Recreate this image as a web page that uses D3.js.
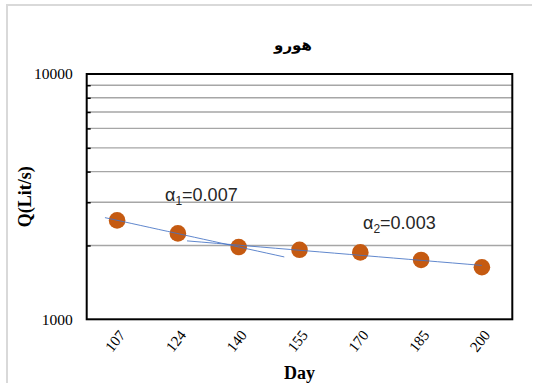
<!DOCTYPE html>
<html>
<head>
<meta charset="utf-8">
<script src="https://cdn.jsdelivr.net/npm/d3@7/dist/d3.min.js"></script>
<style>
  html, body { margin: 0; padding: 0; background: #fff; }
  svg { display: block; }
</style>
</head>
<body>
<svg id="chart" width="541" height="383"></svg>
<script>
// Recession flow at the station: discharge (L/s) against day number
const days = ["107", "124", "140", "155", "170", "185", "200"];
const discharge = [2530, 2240, 1970, 1920, 1875, 1745, 1630];

// Log axis: labelled ticks and the unlabelled minor gridlines
const yLabelTicks = [1000, 10000];
const yGridTicks = [2000, 3000, 4000, 5000, 6000, 7000, 8000, 9000];

// Exponential trendlines: fitted point ranges (by index), forecast periods, recession constants
const trendFitFrom = [0, 2];
const trendFitTo = [2, 6];
const trendBackward = [0.2, 0.85];
const trendForward = [0.75, 0];
const trendAlpha = ["0.007", "0.003"];

const chartTitle = "هورو";
const xTitle = "Day";
const yTitle = "Q(Lit/s)";

const svg = d3.select("#chart");
const W = 541, H = 383;
const plot = { left: 86.7, right: 512.3, top: 74, bottom: 319.3 };

// Outer chart frame (only the top and left edges fall inside the view)
svg.append("path")
  .attr("d", `M7,${H} V5 H532`)
  .attr("fill", "none")
  .attr("stroke", "#d9d9d9")
  .attr("stroke-width", 2);

const x = d3.scaleBand().domain(days).range([plot.left, plot.right]);
const y = d3.scaleLog().domain([1000, 10000]).range([plot.bottom, plot.top]);
const cx = d => x(d) + x.bandwidth() / 2;
// continuous position for fractional category indices (used by trendlines)
const xi = d3.scaleLinear().domain([0, days.length - 1]).range([cx(days[0]), cx(days[days.length - 1])]);

// Gridlines
svg.append("g")
  .selectAll("line")
  .data(yGridTicks)
  .join("line")
  .attr("x1", plot.left).attr("x2", plot.right)
  .attr("y1", d => y(d)).attr("y2", d => y(d))
  .attr("stroke", "#a6a6a6")
  .attr("stroke-width", 1.4);

// Minor tick marks on the value axis (pointing inward)
const yAxisMinor = d3.axisRight(y).tickValues(yGridTicks).tickSize(4).tickFormat("");
svg.append("g")
  .attr("transform", `translate(${plot.left},0)`)
  .call(yAxisMinor)
  .call(g => g.select(".domain").remove())
  .call(g => g.selectAll("line").attr("stroke", "#000").attr("stroke-width", 1.5));

// Labelled value-axis ticks
const yAxis = d3.axisLeft(y).tickValues(yLabelTicks).tickSize(0).tickPadding(14).tickFormat(d3.format("d"));
svg.append("g")
  .attr("transform", `translate(${plot.left},0)`)
  .call(yAxis)
  .call(g => g.select(".domain").remove())
  .call(g => g.selectAll("text")
    .attr("font-family", "'Liberation Serif', 'Times New Roman', serif")
    .attr("font-size", 15.5)
    .attr("fill", "#000"));

// Category axis labels, rotated
const xAxis = d3.axisBottom(x).tickSize(0).tickPadding(0);
svg.append("g")
  .attr("transform", `translate(0,${plot.bottom})`)
  .call(xAxis)
  .call(g => g.select(".domain").remove())
  .call(g => g.selectAll("text")
    .attr("font-family", "'Liberation Serif', 'Times New Roman', serif")
    .attr("font-size", 15)
    .attr("fill", "#000")
    .attr("text-anchor", "end")
    .attr("dy", null)
    .attr("y", 0)
    .attr("transform", "translate(9,16) rotate(-52)"));

// Data points
svg.append("g")
  .selectAll("circle")
  .data(discharge)
  .join("circle")
  .attr("cx", (d, i) => cx(days[i]))
  .attr("cy", d => y(d))
  .attr("r", 8.3)
  .attr("fill", "#c55a11");

// Exponential trendlines fitted by least squares on ln(Q)
function expFit(i0, i1) {
  const pts = d3.range(i0, i1 + 1).map(i => [i, Math.log(discharge[i])]);
  const mx = d3.mean(pts, p => p[0]), my = d3.mean(pts, p => p[1]);
  const b = d3.sum(pts, p => (p[0] - mx) * (p[1] - my)) / d3.sum(pts, p => (p[0] - mx) ** 2);
  const a = my - b * mx;
  return t => Math.exp(a + b * t);
}
const trendLine = d3.line().x(d => xi(d[0])).y(d => y(d[1]));
trendFitFrom.forEach((from, k) => {
  const f = expFit(from, trendFitTo[k]);
  const t0 = from - trendBackward[k], t1 = trendFitTo[k] + trendForward[k];
  const pts = d3.range(0, 21).map(j => { const t = t0 + (t1 - t0) * j / 20; return [t, f(t)]; });
  svg.append("path")
    .attr("d", trendLine(pts))
    .attr("fill", "none")
    .attr("stroke", "#4472c4")
    .attr("stroke-opacity", 0.85)
    .attr("stroke-width", 1);
});

// Recession constant labels
const alphaPos = [[165, 201], [363, 229.3]];
trendAlpha.forEach((val, k) => {
  const t = svg.append("text")
    .attr("x", alphaPos[k][0]).attr("y", alphaPos[k][1])
    .attr("font-family", "'Liberation Sans', Arial, sans-serif")
    .attr("font-size", 18)
    .attr("fill", "#262626");
  t.append("tspan").text("α");
  t.append("tspan").attr("dy", 4).attr("font-size", 12).text(String(k + 1));
  t.append("tspan").attr("dy", -4).text("=" + val);
});

// Plot area border
svg.append("rect")
  .attr("x", plot.left).attr("y", plot.top)
  .attr("width", plot.right - plot.left).attr("height", plot.bottom - plot.top)
  .attr("fill", "none")
  .attr("stroke", "#000")
  .attr("stroke-width", 2);

// Titles
svg.append("text")
  .attr("x", 293).attr("y", 50)
  .attr("text-anchor", "middle")
  .attr("font-family", "'DejaVu Sans', sans-serif")
  .attr("font-weight", "bold")
  .attr("font-size", 15)
  .attr("fill", "#000")
  .text(chartTitle);

svg.append("text")
  .attr("x", (plot.left + plot.right) / 2).attr("y", 378.5)
  .attr("text-anchor", "middle")
  .attr("font-family", "'Liberation Serif', 'Times New Roman', serif")
  .attr("font-weight", "bold")
  .attr("font-size", 18)
  .attr("fill", "#000")
  .text(xTitle);

svg.append("text")
  .attr("transform", `translate(31,${(plot.top + plot.bottom) / 2}) rotate(-90)`)
  .attr("text-anchor", "middle")
  .attr("font-family", "'Liberation Serif', 'Times New Roman', serif")
  .attr("font-weight", "bold")
  .attr("font-size", 18)
  .attr("fill", "#000")
  .text(yTitle);
</script>
</body>
</html>
